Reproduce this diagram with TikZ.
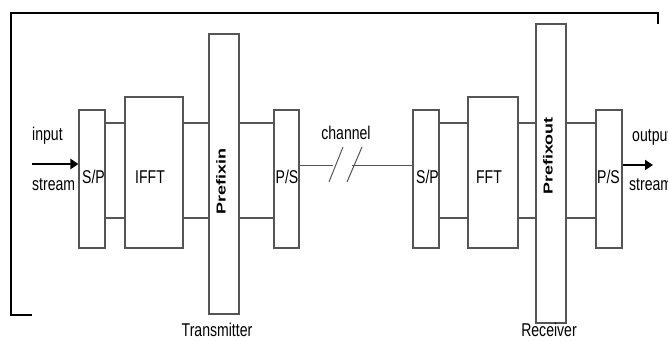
\documentclass[tikz,border=0pt]{standalone}
\usepackage{fontspec}
\setmainfont{Liberation Sans}
\usepackage{graphicx}
\usetikzlibrary{arrows.meta,calc}
\newcommand\cnd[1]{\scalebox{0.76}[1]{#1}}
\newcommand\wide[1]{\scalebox{1.38}[1]{#1}}
\definecolor{boxgray}{HTML}{555555}
\begin{document}
\begin{tikzpicture}[x=1pt,y=-1pt,
  blk/.style={draw=boxgray,line width=1.1pt,fill=white,inner sep=0pt},
  wire/.style={draw=boxgray,line width=1.1pt},
  lbl/.style={inner sep=0pt,anchor=base,text=black,font=\fontsize{18.5}{18.5}\selectfont},
  pre/.style={inner sep=0pt,rotate=90,anchor=center,text=black,font=\fontsize{13}{13}\selectfont\bfseries},
  frame/.style={draw=black,line width=1.8pt},
  bigarrow/.style={draw=black,line width=2.4pt,-{Triangle[length=8pt,width=10pt]}}]
\useasboundingbox (0,0) rectangle (668,340);
% frame
\coordinate (f1) at (32,315);
\coordinate (f2) at (11,315);
\coordinate (f3) at (11,13);
\coordinate (f4) at (658,13);
\coordinate (f5) at (658,24);
\draw[frame] (f1) -- (f2) -- (f3) -- (f4) -- (f5);
% reference heights
\coordinate (up) at (0,123);
\coordinate (lo) at (0,218);
% transmitter
\node[blk,minimum width=26,minimum height=138] (sp1) at (92,179) {};
\node[blk,minimum width=58,minimum height=151] (ifft) at (154,172.5) {};
\node[blk,minimum width=30,minimum height=280] (prein) at (224,174) {};
\node[blk,minimum width=25,minimum height=138] (ps1) at (286.5,179) {};
% receiver
\node[blk,minimum width=26,minimum height=138] (sp2) at (426,179) {};
\node[blk,minimum width=50,minimum height=151] (fft) at (493,172.5) {};
\node[blk,minimum width=30,minimum height=299] (preout) at (551,173.5) {};
\node[blk,minimum width=26,minimum height=138] (ps2) at (609,179) {};
% wires
\foreach \a/\b in {sp1/ifft,ifft/prein,prein/ps1,sp2/fft,fft/preout,preout/ps2}{
  \draw[wire] (\a.east |- up) -- (\b.west |- up);
  \draw[wire] (\a.east |- lo) -- (\b.west |- lo);
}
% channel
\coordinate (ch) at (0,165);
\coordinate (c1) at (333,165);
\coordinate (c2) at (352,165);
\draw[wire,line width=1pt] (ps1.east |- ch) -- (c1);
\draw[wire,line width=1pt] (c2) -- (sp2.west |- ch);
\coordinate (s1a) at (329,182); \coordinate (s1b) at (343,147);
\coordinate (s2a) at (347,182); \coordinate (s2b) at (362,147);
\draw[wire,line width=1pt] (s1a) -- (s1b);
\draw[wire,line width=1pt] (s2a) -- (s2b);
% arrows
\coordinate (inst) at (32,164);
\coordinate (outend) at (653,165);
\draw[bigarrow] (inst) -- (sp1.west |- inst);
\draw[bigarrow] (ps2.east |- outend) -- (outend);
% labels
\node[lbl,anchor=base west] (tin) at (32,140) {\cnd{input}};
\node[lbl,anchor=base west] (tst) at (32,190) {\cnd{stream}};
\node[lbl] (tsp1) at (93.5,183) {\cnd{S/P}};
\node[lbl] (tifft) at (150,183) {\cnd{IFFT}};
\node[pre] (tpin) at (221,181.5) {\wide{Prefixin}};
\node[lbl] (tps1) at (287,183) {\cnd{P/S}};
\node[lbl] (tch) at (346,139) {\cnd{channel}};
\node[lbl] (tsp2) at (427.5,183) {\cnd{S/P}};
\node[lbl] (tfft) at (489,183) {\cnd{FFT}};
\node[pre] (tpout) at (548,156) {\wide{Prefixout}};
\node[lbl] (tps2) at (608.5,183) {\cnd{P/S}};
\node[lbl,anchor=base west] (tout) at (632,141) {\cnd{output}};
\node[lbl,anchor=base west] (tst2) at (629,190) {\cnd{stream}};
\node[lbl] (ttx) at (217,336) {\cnd{Transmitter}};
\node[lbl] (trx) at (549,336) {\cnd{Receiver}};
\end{tikzpicture}
\end{document}
